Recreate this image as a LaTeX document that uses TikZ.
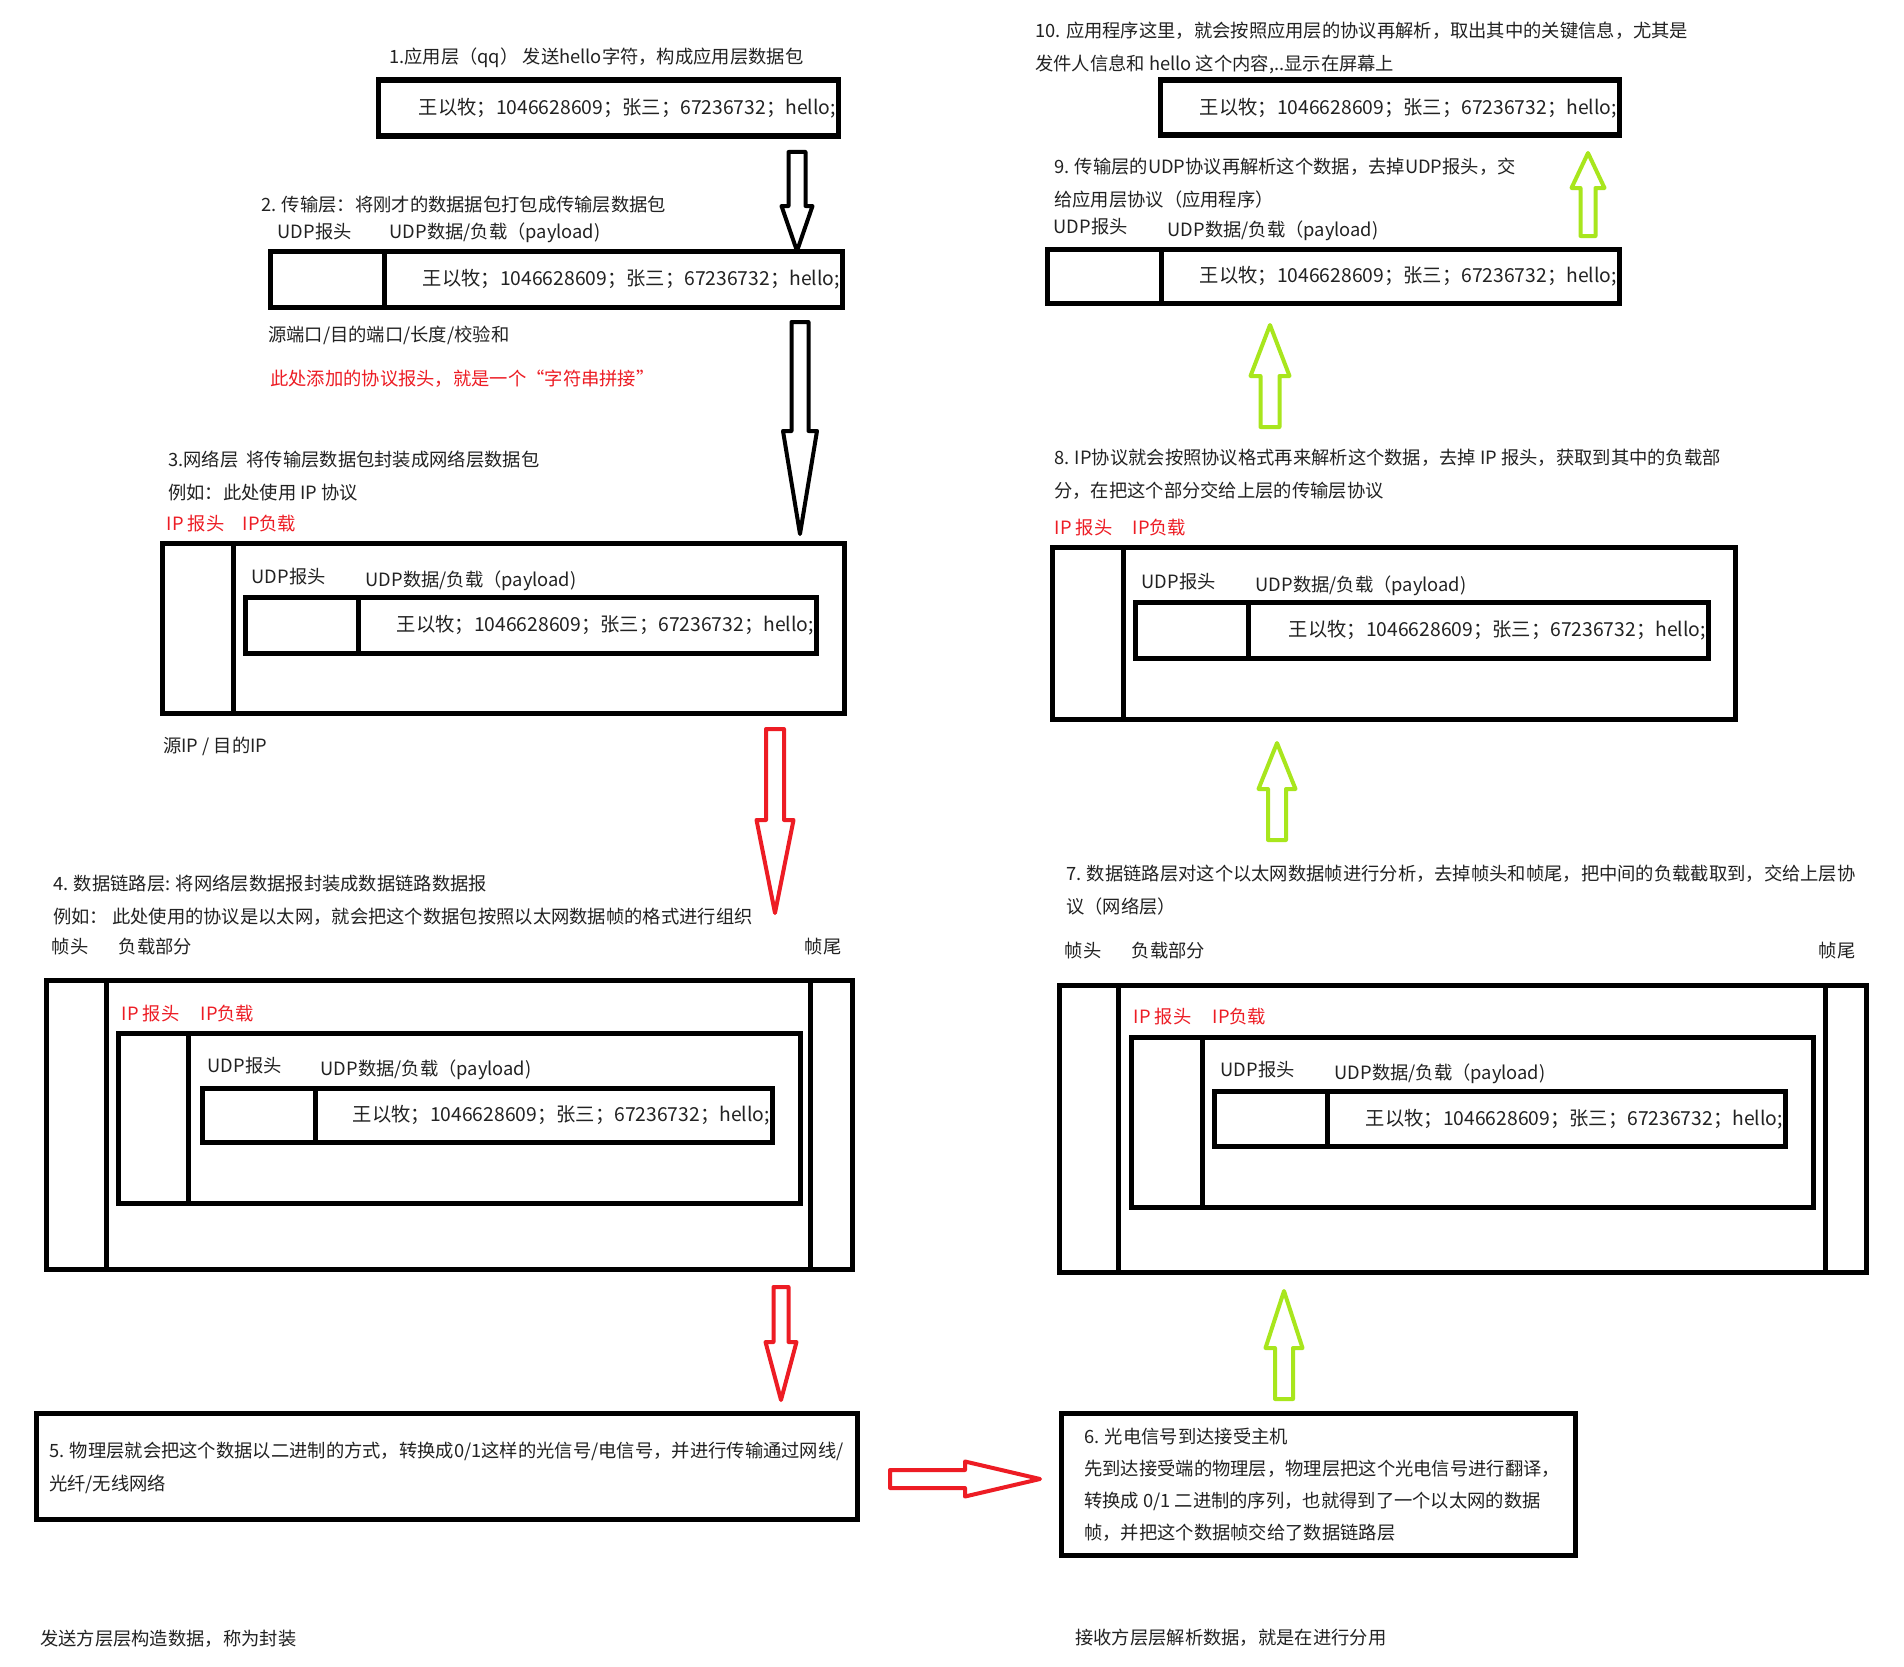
\documentclass[tikz,border=0pt]{standalone}
\usepackage{fontspec}
\setmainfont{Noto Sans CJK SC}
\usepackage{tikz}
\usetikzlibrary{positioning}

\definecolor{hlred}{RGB}{237,28,36}
\definecolor{hlgreen}{RGB}{168,230,29}
\definecolor{ink}{RGB}{34,34,34}

% hollow block arrow: colour, x, tail y, head-base y, tip y, half shaft, half head
\newcommand{\vblock}[7]{%
  \draw[#1, line width=4pt, line join=round]
    ({#2-#6},#3) -- ({#2+#6},#3) -- ({#2+#6},#4) -- ({#2+#7},#4) -- (#2,#5)
    -- ({#2-#7},#4) -- ({#2-#6},#4) -- cycle;}
% same, pointing right: colour, y, tail x, head-base x, tip x, half shaft, half head
\newcommand{\hblock}[7]{%
  \draw[#1, line width=4pt, line join=round]
    (#3,{#2-#6}) -- (#3,{#2+#6}) -- (#4,{#2+#6}) -- (#4,{#2+#7}) -- (#5,#2)
    -- (#4,{#2-#7}) -- (#4,{#2-#6}) -- cycle;}

\begin{document}
\begin{tikzpicture}[x=1pt, y=-1pt, text=ink]
    % Define styles
    \tikzstyle{pkt} = [rectangle, draw=black, line width=5.5pt, inner sep=0pt, anchor=north west, xshift=-2.5pt, yshift=1.5pt]
    \tikzstyle{lbl} = [anchor=west, inner sep=0pt, font=\fontsize{18.3}{33}\selectfont, align=left]
    \tikzstyle{redlbl} = [lbl, text=hlred]
    \tikzstyle{data} = [anchor=east, inner sep=0pt, font=\fontsize{19.3}{22}\selectfont]

    \fill[white] (0,0) rectangle (1904,1667);
    \useasboundingbox (0,0) rectangle (1904,1667);

    % 1. application layer
    \node[lbl] (t1) at (389,58) {1.应用层（qq） 发送hello字符，构成应用层数据包};
    \node[pkt, minimum width=460pt, minimum height=56pt] (app1) at (378,79) {};
    \node[data] (d1) at ([xshift=-5pt]app1.east) {王以牧；1046628609；张三；67236732；hello;};

    % 2. transport layer
    \node[lbl] (t2) at (261,205) {2. 传输层：将刚才的数据据包打包成传输层数据包};
    \node[pkt, minimum width=114pt, minimum height=56pt] (hdr2) at (270,250) {};
    \node[pkt, minimum width=458pt, minimum height=56pt] (pay2) at (384,250) {};
    \node[lbl] (uh2) at ([shift={(10pt,17pt)}]hdr2.north west) {UDP报头};
    \node[lbl] (up2) at ([shift={(8pt,16pt)}]pay2.north west) {UDP数据/负载（payload)};
    \node[data] (d2) at ([xshift=-5pt]pay2.east) {王以牧；1046628609；张三；67236732；hello;};
    \node[lbl] (port2) at (268,335) {源端口/目的端口/长度/校验和};
    \node[redlbl] (note2) at (270,379) {此处添加的协议报头，就是一个“字符串拼接”};

    % 3. network layer
    \node[lbl] (t3) at (168,476) {3.网络层\ \ 将传输层数据包封装成网络层数据包\\例如：此处使用 IP 协议};
    \node[pkt, minimum width=71pt, minimum height=170pt] (iph3) at (162,542) {};
    \node[pkt, minimum width=611pt, minimum height=170pt] (ipp3) at (233,542) {};
    \node[redlbl] (ih3) at ([shift={(7pt,17pt)}]iph3.north west) {IP 报头};
    \node[redlbl] (ip3) at ([shift={(12pt,17pt)}]ipp3.north west) {IP负载};
    \node[pkt, minimum width=113pt, minimum height=56pt] (hdr3) at (245,596) {};
    \node[pkt, minimum width=458pt, minimum height=56pt] (pay3) at (358,596) {};
    \node[lbl] (uh3) at ([shift={(9pt,18pt)}]hdr3.north west) {UDP报头};
    \node[lbl] (up3) at ([shift={(10pt,14pt)}]pay3.north west) {UDP数据/负载（payload)};
    \node[data] (d3) at ([xshift=-5pt]pay3.east) {王以牧；1046628609；张三；67236732；hello;};
    \node[lbl] (ip3note) at (163,746) {源IP / 目的IP};

    % 4. data link layer
    \node[lbl] (t4) at (53,900) {4. 数据链路层: 将网络层数据报封装成数据链路数据报\\例如：\ 此处使用的协议是以太网，就会把这个数据包按照以太网数据帧的格式进行组织};
    \node[pkt, minimum width=60pt, minimum height=289pt] (fh4) at (46,979) {};
    \node[pkt, minimum width=704pt, minimum height=289pt] (fp4) at (106,979) {};
    \node[pkt, minimum width=42pt, minimum height=289pt] (ft4) at (810,979) {};
    \node[lbl] (fhl4) at ([shift={(8pt,31pt)}]fh4.north west) {帧头};
    \node[lbl] (fpl4) at ([shift={(15pt,31pt)}]fp4.north west) {负载部分};
    \node[lbl] (ftl4) at ([shift={(-3pt,31pt)}]ft4.north west) {帧尾};
    \node[pkt, minimum width=70pt, minimum height=170pt] (iph4) at (118,1032) {};
    \node[pkt, minimum width=612pt, minimum height=170pt] (ipp4) at (188,1032) {};
    \node[redlbl] (ih4) at ([shift={(6pt,17pt)}]iph4.north west) {IP 报头};
    \node[redlbl] (ip4) at ([shift={(15pt,17pt)}]ipp4.north west) {IP负载};
    \node[pkt, minimum width=113pt, minimum height=54pt] (hdr4) at (202,1087) {};
    \node[pkt, minimum width=457pt, minimum height=54pt] (pay4) at (315,1087) {};
    \node[lbl] (uh4) at ([shift={(8pt,20pt)}]hdr4.north west) {UDP报头};
    \node[lbl] (up4) at ([shift={(8pt,16pt)}]pay4.north west) {UDP数据/负载（payload)};
    \node[data] (d4) at ([xshift=-5pt]pay4.east) {王以牧；1046628609；张三；67236732；hello;};

    % 5. physical layer (sender)
    \node[pkt, minimum width=821pt, minimum height=106pt] (phy5) at (36,1412) {};
    \node[lbl] (t5) at (49,1468) {5. 物理层就会把这个数据以二进制的方式，转换成0/1这样的光信号/电信号，并进行传输通过网线/\\光纤/无线网络};

    % 6. physical layer (receiver)
    \node[pkt, minimum width=514pt, minimum height=142pt] (phy6) at (1061,1412) {};
    \node[lbl, font=\fontsize{18.3}{32}\selectfont] (t6) at (1084,1485) {6. 光电信号到达接受主机\\先到达接受端的物理层，物理层把这个光电信号进行翻译，\\转换成 0/1 二进制的序列，也就得到了一个以太网的数据\\帧，并把这个数据帧交给了数据链路层};

    % 7. data link layer (receiver)
    \node[lbl] (t7) at (1066,890) {7. 数据链路层对这个以太网数据帧进行分析，去掉帧头和帧尾，把中间的负载截取到，交给上层协\\议（网络层）};
    \node[pkt, minimum width=59pt, minimum height=287pt] (fh7) at (1059,984) {};
    \node[pkt, minimum width=707pt, minimum height=287pt] (fp7) at (1118,984) {};
    \node[pkt, minimum width=41pt, minimum height=287pt] (ft7) at (1825,984) {};
    \node[lbl] (fhl7) at ([shift={(8pt,32pt)}]fh7.north west) {帧头};
    \node[lbl] (fpl7) at ([shift={(16pt,32pt)}]fp7.north west) {负载部分};
    \node[lbl] (ftl7) at ([shift={(-4pt,32pt)}]ft7.north west) {帧尾};
    \node[pkt, minimum width=71pt, minimum height=170pt] (iph7) at (1131,1036) {};
    \node[pkt, minimum width=611pt, minimum height=170pt] (ipp7) at (1202,1036) {};
    \node[redlbl] (ih7) at ([shift={(5pt,18pt)}]iph7.north west) {IP 报头};
    \node[redlbl] (ip7) at ([shift={(13pt,18pt)}]ipp7.north west) {IP负载};
    \node[pkt, minimum width=113pt, minimum height=55pt] (hdr7) at (1214,1090) {};
    \node[pkt, minimum width=458pt, minimum height=55pt] (pay7) at (1327,1090) {};
    \node[lbl] (uh7) at ([shift={(9pt,19pt)}]hdr7.north west) {UDP报头};
    \node[lbl] (up7) at ([shift={(10pt,15pt)}]pay7.north west) {UDP数据/负载（payload)};
    \node[data] (d7) at ([xshift=-5pt]pay7.east) {王以牧；1046628609；张三；67236732；hello;};

    % 8. network layer (receiver)
    \node[lbl] (t8) at (1054,474) {8. IP协议就会按照协议格式再来解析这个数据，去掉 IP 报头，获取到其中的负载部\\分，在把这个部分交给上层的传输层协议};
    \node[pkt, minimum width=71pt, minimum height=172pt] (iph8) at (1052,546) {};
    \node[pkt, minimum width=612pt, minimum height=172pt] (ipp8) at (1123,546) {};
    \node[redlbl] (ih8) at ([shift={(5pt,17pt)}]iph8.north west) {IP 报头};
    \node[redlbl] (ip8) at ([shift={(12pt,17pt)}]ipp8.north west) {IP负载};
    \node[pkt, minimum width=113pt, minimum height=56pt] (hdr8) at (1135,601) {};
    \node[pkt, minimum width=460pt, minimum height=56pt] (pay8) at (1248,601) {};
    \node[lbl] (uh8) at ([shift={(9pt,18pt)}]hdr8.north west) {UDP报头};
    \node[lbl] (up8) at ([shift={(10pt,14pt)}]pay8.north west) {UDP数据/负载（payload)};
    \node[data] (d8) at ([xshift=-5pt]pay8.east) {王以牧；1046628609；张三；67236732；hello;};

    % 9. transport layer (receiver)
    \node[lbl] (t9) at (1054,183) {9. 传输层的UDP协议再解析这个数据，去掉UDP报头，交\\给应用层协议（应用程序）};
    \node[pkt, minimum width=114pt, minimum height=54pt] (hdr9) at (1047,248) {};
    \node[pkt, minimum width=458pt, minimum height=54pt] (pay9) at (1161,248) {};
    \node[lbl] (uh9) at ([shift={(9pt,20pt)}]hdr9.north west) {UDP报头};
    \node[lbl] (up9) at ([shift={(9pt,16pt)}]pay9.north west) {UDP数据/负载（payload)};
    \node[data] (d9) at ([xshift=-5pt]pay9.east) {王以牧；1046628609；张三；67236732；hello;};

    % 10. application layer (receiver)
    \node[lbl] (t10) at (1035,48) {10. 应用程序这里，就会按照应用层的协议再解析，取出其中的关键信息，尤其是\\发件人信息和 hello 这个内容,..显示在屏幕上};
    \node[pkt, minimum width=459pt, minimum height=55pt] (app10) at (1160,79) {};
    \node[data] (d10) at ([xshift=-5pt]app10.east) {王以牧；1046628609；张三；67236732；hello;};

    % bottom notes
    \node[lbl] (send) at (40,1639) {发送方层层构造数据，称为封装};
    \node[lbl] (recv) at (1075,1638) {接收方层层解析数据，就是在进行分用};

    % Arrows
    \vblock{black}{797}{152}{206}{251}{8.5}{15.5}
    \vblock{black}{800}{322}{431}{534}{8.5}{17}
    \vblock{hlred}{775}{729}{820}{913}{9}{18.5}
    \vblock{hlred}{781}{1287}{1342}{1400}{7.5}{15.5}
    \hblock{hlred}{1479}{890}{965}{1040}{9}{17.5}
    \vblock{hlgreen}{1284}{1399}{1348}{1291}{9}{18.5}
    \vblock{hlgreen}{1277}{840}{789}{743}{9}{18.5}
    \vblock{hlgreen}{1270}{427}{376}{325}{9.5}{19.5}
    \vblock{hlgreen}{1588}{236}{188}{153}{7.5}{16.5}
\end{tikzpicture}
\end{document}
